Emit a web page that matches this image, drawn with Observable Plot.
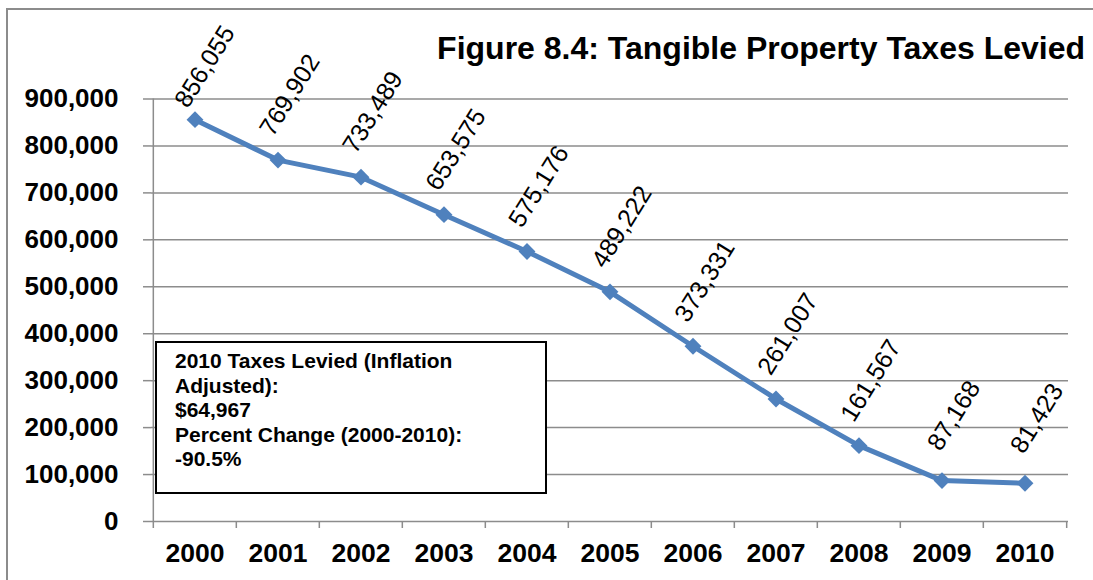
<!DOCTYPE html>
<html>
<head>
<meta charset="utf-8">
<script src="https://cdn.jsdelivr.net/npm/d3@7"></script>
<script src="https://cdn.jsdelivr.net/npm/@observablehq/plot@0.6"></script>
<style>
  html, body { margin: 0; padding: 0; background: #fff; overflow: hidden; }
  #wrap { position: relative; width: 1093px; height: 580px; background: #fff; font-family: "Liberation Sans", Arial, sans-serif; }
  #frame { position: absolute; left: 6px; top: 8px; width: 1200px; height: 700px; border-left: 2px solid #8c8c8c; border-top: 2px solid #8c8c8c; }
  #title { position: absolute; right: 8px; top: 32px; font-size: 32px; line-height: 32px; font-weight: bold; color: #000; white-space: nowrap; }
  #note { position: absolute; left: 155px; top: 341px; width: 370px; height: 143px; border: 2px solid #000; background: #fff; padding: 6px 0 0 18px; font-size: 21px; line-height: 24.6px; font-weight: bold; color: #000; }
  #note div { white-space: pre; }
  #chart { position: absolute; left: 0; top: 0; }
</style>
</head>
<body>
<div id="wrap">
  <div id="frame"></div>
  <div id="chart"></div>
  <div id="title"></div>
  <div id="note"></div>
</div>
<script>
const titleText = "Figure 8.4: Tangible Property Taxes Levied";
const years = ["2000", "2001", "2002", "2003", "2004", "2005", "2006", "2007", "2008", "2009", "2010"];
const taxes = [856055, 769902, 733489, 653575, 575176, 489222, 373331, 261007, 161567, 87168, 81423];
const yTicks = [0, 100000, 200000, 300000, 400000, 500000, 600000, 700000, 800000, 900000];
const noteLines = ["2010 Taxes Levied (Inflation", "Adjusted):", "$64,967", "Percent Change (2000-2010):", "-90.5%"];

const data = years.map((year, i) => ({year, value: taxes[i]}));

const W = 1093, H = 580;
const mL = 151, mR = 25, mT = 98.5, mB = 59;
const bw = (W - mL - mR) / years.length;
const gray = "#8c8c8c";
const blue = "#4F81BD";
const fmt = d3.format(",");

const plot = Plot.plot({
  width: W,
  height: H,
  marginLeft: mL,
  marginRight: mR,
  marginTop: mT,
  marginBottom: mB,
  style: {fontFamily: "'Liberation Sans', Arial, sans-serif", background: "transparent", overflow: "visible"},
  x: {type: "band", domain: years, padding: 0},
  y: {domain: [0, 900000]},
  marks: [
    Plot.gridY(yTicks, {stroke: gray, strokeOpacity: 1, strokeWidth: 1.5}),
    Plot.axisY(yTicks, {tickSize: 8, tickPadding: 25, stroke: gray, strokeWidth: 1.5, fill: "#000", fontSize: 26, fontWeight: "bold", tickFormat: fmt, label: null}),
    Plot.axisX({tickSize: 0, tickPadding: 22, fill: "#000", fontSize: 26.5, fontWeight: "bold", label: null}),
    Plot.ruleX([years[0]], {x: d => d, dx: -bw / 2, stroke: gray, strokeWidth: 1.5, insetBottom: -7}),
    Plot.ruleX(years.slice(1), {x: d => d, y1: 0, y2: 0, dx: -bw / 2, stroke: gray, strokeWidth: 1.5, insetBottom: -7}),
    Plot.ruleX([years[years.length - 1]], {x: d => d, y1: 0, y2: 0, dx: bw / 2, stroke: gray, strokeWidth: 1.5, insetBottom: -7}),
    Plot.lineY(data, {x: "year", y: "value", stroke: blue, strokeWidth: 5}),
    Plot.dot(data, {x: "year", y: "value", symbol: "diamond2", r: 7.6, fill: blue, stroke: "none"}),
    Plot.text(data.slice(0, 1), {x: "year", y: "value", text: d => fmt(d.value), rotate: -58, textAnchor: "middle", lineAnchor: "middle", dx: 10, dy: -53, fontSize: 25, fill: "#000"}),
    Plot.text(data.slice(1), {x: "year", y: "value", text: d => fmt(d.value), rotate: -58, textAnchor: "middle", lineAnchor: "middle", dx: 12, dy: -65, fontSize: 25, fill: "#000"})
  ]
});

document.getElementById("chart").appendChild(plot);
document.getElementById("title").textContent = titleText;
const note = document.getElementById("note");
noteLines.forEach(t => { const d = document.createElement("div"); d.textContent = t; note.appendChild(d); });
</script>
</body>
</html>
